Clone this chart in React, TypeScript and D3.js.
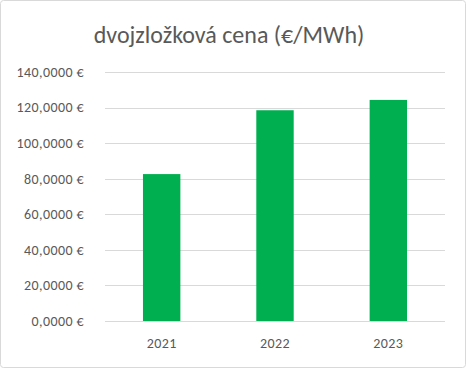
import React from "react";
import * as d3 from "d3";

const title = "dvojzložková cena (€/MWh)";
const categories = ["2021", "2022", "2023"];
const values = [82.6, 118.5, 124.3];
const yTicks = [0, 20, 40, 60, 80, 100, 120, 140];

const W = 466, H = 368;
const font = "Carlito, Calibri, Lato, 'Open Sans', sans-serif";

export default function App() {
  const x = d3.scaleBand<string>().domain(categories).range([105, 445]).paddingInner(0.67).paddingOuter(0.335);
  const y = d3.scaleLinear().domain([0, 140]).range([321, 72]);
  const fmt = (v: number) => v.toFixed(4).replace(".", ",") + " €";
  return (
    <svg width={W} height={H} style={{ position: "absolute", left: 0, top: 0 }} fontFamily={font}>
      <rect x={0.5} y={0.5} width={W - 1} height={H - 1} rx={3} fill="#fff" stroke="#d9d9d9" />
      <text x={229} y={43} textAnchor="middle" fontSize={24} fill="#595959">{title}</text>
      {yTicks.map((t) => (
        <g key={t}>
          <line x1={105} x2={445} y1={Math.round(y(t)) + 0.5} y2={Math.round(y(t)) + 0.5} stroke="#d9d9d9" />
          <text x={84} y={y(t)} dy="0.35em" textAnchor="end" fontSize={14} letterSpacing={0.4} fill="#595959">{fmt(t)}</text>
        </g>
      ))}
      {categories.map((c, i) => (
        <rect key={c} x={x(c)} y={y(values[i])} width={x.bandwidth()} height={y(0) - y(values[i])} fill="#00B050" />
      ))}
      {categories.map((c) => (
        <text key={c} x={(x(c) as number) + x.bandwidth() / 2} y={343} dy="0.35em" textAnchor="middle" fontSize={14} letterSpacing={0.4} fill="#595959">{c}</text>
      ))}
    </svg>
  );
}
